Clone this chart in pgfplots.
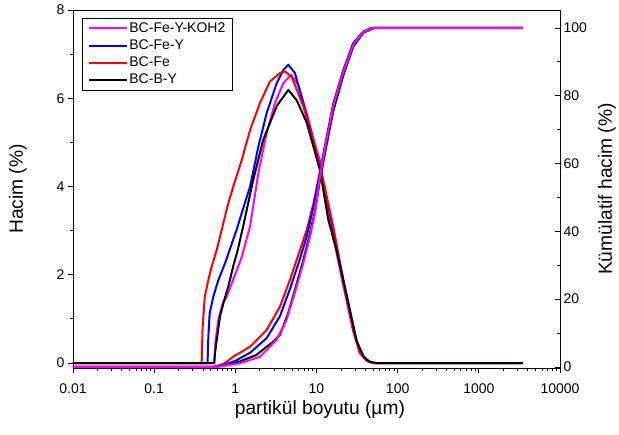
\documentclass[border=0pt]{standalone}
\usepackage{fontspec}
\setmainfont{Liberation Sans}
\usepackage{pgfplots}
\pgfplotsset{compat=1.18}
\definecolor{cMag}{RGB}{255,0,255}
\definecolor{cBlue}{RGB}{0,0,255}
\definecolor{cRed}{RGB}{255,0,0}
\begin{document}
\begin{tikzpicture}
\pgfplotsset{
  base/.style={
    scale only axis, width=487bp, height=358bp,
    at={(0,0)}, anchor=south west,
    xmin=0.01, xmax=10000,
    axis line style={line width=0.8bp},
    major tick length=5bp, minor tick length=3bp,
    every tick/.style={line width=0.8bp, black},
    ticklabel style={font=\fontsize{14bp}{16bp}\selectfont},
    label style={font=\fontsize{19.2bp}{22bp}\selectfont},
    /pgf/number format/assume math mode=true,
  },
  crv/.style={line width=2bp, line join=round},
}
% frequency (left axis)
\begin{semilogxaxis}[base,
  ymin=-0.113, ymax=8,
  ytick={0,2,4,6,8}, minor ytick={1,3,5,7},
  xtick={0.01,0.1,1,10,100,1000,10000},
  xticklabels={0.01,0.1,1,10,100,1000,10000},
  xticklabel style={yshift=-7bp},
  xtick pos=bottom, ytick pos=left, tick align=outside,
  xlabel={partikül boyutu (µm)},
  ylabel={Hacim (\%)},
  xlabel style={at={(axis description cs:0.507,-0.117)}, anchor=center},
  ylabel style={at={(axis description cs:-0.113,0.5)}, anchor=center},
  legend cell align=left,
  legend style={at={(axis description cs:0.0185,0.978)}, anchor=north west,
    draw=black, line width=0.8bp, inner xsep=6bp, inner ysep=1.4bp,
    font=\fontsize{14bp}{16bp}\selectfont,
    nodes={inner xsep=1bp, inner ysep=1.9bp, text height=10.5bp, text depth=3bp},
    /tikz/every even column/.style={column sep=1bp}},
  legend image code/.code={\path (0bp,0bp) -- (6bp,0bp);
    \draw[#1] (6bp,0bp) -- (38bp,0bp);},
]
\addplot[crv, cMag] coordinates {
  (0.01,0) (0.55,0) (0.57,0.5) (0.62,1.0) (0.70,1.35) (0.78,1.5) (0.97,1.95)
  (1.20,2.4) (1.52,3.1) (1.92,4.30) (2.43,5.21) (3.08,5.89) (3.90,6.34)
  (4.85,6.53) (5.97,6.30) (7.57,5.66) (9.59,4.95) (11.0,4.6) (13.3,3.6)
  (16.1,2.85) (21.4,1.75) (28.4,0.72) (34.3,0.22) (42,0.05) (50,0) (3500,0)};
\addlegendentry{BC-Fe-Y-KOH2}
\addplot[crv, cBlue] coordinates {
  (0.01,0) (0.455,0) (0.465,0.6) (0.483,1.13) (0.535,1.50) (0.617,1.88)
  (0.747,2.26) (0.88,2.64) (1.05,3.05) (1.2,3.4) (1.52,4.0) (1.92,4.90)
  (2.43,5.66) (3.23,6.34) (3.90,6.64) (4.49,6.76) (5.43,6.57) (6.87,5.89)
  (9.13,5.06) (12.1,4.1) (16.1,3.02) (21.4,1.85) (28.4,0.74) (34.3,0.23)
  (42,0.05) (50,0) (3500,0)};
\addlegendentry{BC-Fe-Y}
\addplot[crv, cRed] coordinates {
  (0.01,0) (0.385,0) (0.395,0.8) (0.42,1.5) (0.465,1.88) (0.51,2.18)
  (0.59,2.56) (0.68,3.02) (0.80,3.55) (0.944,4.0) (1.20,4.6) (1.52,5.28)
  (2.01,5.89) (2.67,6.38) (3.55,6.57) (4.09,6.61) (4.94,6.49) (6.87,5.82)
  (9.13,5.06) (12.1,4.15) (16.1,3.09) (21.4,1.88) (28.4,0.75) (34.3,0.23)
  (42,0.05) (52,0) (3500,0)};
\addlegendentry{BC-Fe}
\addplot[crv, black] coordinates {
  (0.01,0) (0.55,0) (0.56,0.2) (0.59,0.52) (0.647,1.05) (0.711,1.35)
  (0.818,1.73) (0.944,2.2) (1.07,2.56) (1.25,3.1) (1.66,4.15) (2.21,5.06)
  (3.23,5.82) (4.49,6.19) (5.69,5.96) (7.57,5.45) (9.14,4.91) (11.0,4.38)
  (14.0,3.24) (17.7,2.55) (23.5,1.55) (31.3,0.5) (38,0.15) (45,0.03)
  (55,0) (3500,0)};
\addlegendentry{BC-B-Y}
\end{semilogxaxis}
% cumulative (right axis)
\begin{semilogxaxis}[base,
  ymin=-0.3, ymax=105.3,
  axis x line=none, axis y line*=right,
  ytick={0,20,40,60,80,100}, minor ytick={10,30,50,70,90},
  tick align=inside,
  ylabel={Kümülatif hacim (\%)},
  ylabel style={at={(axis description cs:1.0965,0.5)}, anchor=center},
]
\addplot[crv, black] coordinates {
  (0.01,0) (0.57,0) (0.75,0.5) (1.1,1.5) (1.8,3.5) (2.94,7.5) (3.55,9.5)
  (4.5,16) (5.69,24.5) (6.87,31.5) (8.32,39.5) (9.6,46) (11.0,55) (13.3,65.5)
  (16.1,75.5) (21.4,86) (28.4,94.5) (37.8,98.6) (52,100) (3500,100)};
\addplot[crv, cRed] coordinates {
  (0.01,0) (0.5,0) (0.6,0.3) (0.75,1.2) (0.944,3.0) (1.52,6.0) (2.43,10.9)
  (3.55,17.8) (4.71,25.7) (6.27,34.5) (7.57,40.4) (9.13,48) (11.0,57.5)
  (13.3,67.5) (16.1,77.5) (21.4,87.5) (28.4,95.5) (37.8,98.9) (48,100) (3500,100)};
\addplot[crv, cBlue] coordinates {
  (0.01,0) (0.55,0) (0.7,0.5) (1.0,1.8) (1.52,4.2) (2.43,8.5) (3.55,15)
  (4.71,23) (6.27,32) (7.57,38.5) (9.13,47) (11.0,57) (13.3,67.5) (16.1,77.5)
  (21.4,87.5) (28.4,95.5) (37.8,98.9) (48,100) (3500,100)};
\addplot[crv, cMag] coordinates {
  (0.01,0) (0.58,0) (0.75,0.4) (1.14,1.1) (2.01,3.0) (3.23,8.0) (4.28,13.9)
  (5.69,23.7) (6.87,30.6) (8.32,38.4) (9.6,45.5) (11.0,56) (13.3,67)
  (16.1,77) (21.4,87) (28.4,95) (37.8,98.8) (50,100) (3500,100)};
\end{semilogxaxis}
\pgfresetboundingbox
\path[use as bounding box] (-73bp,-67bp) rectangle (546bp,368bp);
\end{tikzpicture}
\end{document}
